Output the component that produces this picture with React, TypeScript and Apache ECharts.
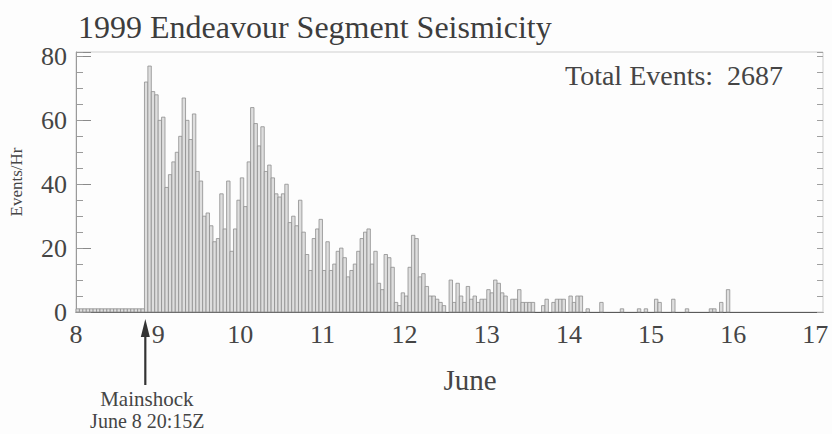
import React, { useEffect, useRef } from "react";
import * as echarts from "echarts";

// Hourly event counts, one array per day of June 1999 (hour 0..23)
const june8 = [1, 1, 1, 1, 1, 1, 1, 1, 1, 1, 1, 1, 1, 1, 1, 1, 1, 1, 1, 1, 72, 77, 69, 68];
const june9 = [60, 61, 39, 43, 47, 50, 55, 67, 60, 54, 62, 44, 41, 30, 31, 27, 22, 23, 37, 26, 41, 19, 26, 35];
const june10 = [42, 33, 47, 64, 59, 52, 58, 44, 46, 42, 37, 36, 37, 40, 28, 30, 27, 35, 25, 18, 13, 23, 26, 29];
const june11 = [13, 22, 13, 15, 19, 20, 17, 11, 13, 15, 19, 23, 25, 26, 15, 19, 9, 7, 18, 17, 14, 3, 2, 6];
const june12 = [5, 14, 24, 23, 11, 12, 8, 5, 5, 4, 3, 2, 0, 10, 3, 9, 5, 3, 8, 4, 5, 3, 4, 4];
const june13 = [7, 6, 10, 9, 6, 5, 0, 4, 4, 7, 3, 3, 3, 3, 0, 0, 2, 4, 0, 3, 4, 4, 4, 0];
const june14 = [5, 3, 5, 5, 0, 1, 0, 0, 0, 3, 0, 0, 0, 0, 0, 1, 0, 0, 0, 0, 1, 0, 1, 0];
const june15 = [0, 4, 3, 0, 0, 0, 4, 0, 0, 0, 1, 0, 0, 0, 0, 0, 0, 1, 1, 0, 3, 0, 7, 0];
const dayStarts = [8, 9, 10, 11, 12, 13, 14, 15];
const hourlyByDay = [june8, june9, june10, june11, june12, june13, june14, june15];

const xTickDays = [8, 9, 10, 11, 12, 13, 14, 15, 16, 17];
const yTickValues = [0, 20, 40, 60, 80];
const mainshockDay = 8 + (20 + 15 / 60) / 24;
const totalEvents = 2687;

const titleText = "1999 Endeavour Segment Seismicity";
const xAxisTitle = "June";
const yAxisTitle = "Events/Hr";
const mainshockLabel = "Mainshock";
const mainshockTime = "June 8 20:15Z";

const SERIF = "'Liberation Serif', 'Times New Roman', 'DejaVu Serif', serif";
const TEXT = "#454545";

export default function App() {
  const ref = useRef<HTMLDivElement>(null);

  useEffect(() => {
    if (!ref.current) return;
    const chart = echarts.init(ref.current, undefined, { renderer: "svg" });

    const points: number[][] = [];
    hourlyByDay.forEach((arr, d) => {
      arr.forEach((v, h) => {
        if (v > 0) points.push([dayStarts[d] + h / 24, v]);
      });
    });

    const yMax = 81.4;
    const xMin = xTickDays[0];
    const xMax = 17.093;

    const option: any = {
      animation: false,
      backgroundColor: "#fdfdfd",
      title: {
        text: titleText,
        left: 73,
        top: 6,
        textStyle: { fontFamily: SERIF, fontSize: 32, fontWeight: "normal", color: "#3d3d3d" },
      },
      grid: {
        left: 71,
        right: 9,
        top: 52,
        bottom: 122,
        show: true,
        borderColor: "#cfcfcf",
        borderWidth: 1,
        backgroundColor: "transparent",
      },
      xAxis: {
        type: "value",
        min: xMin,
        max: xMax,
        interval: 1,
        axisLine: { show: true, onZero: false, lineStyle: { color: "#5a5a5a", width: 1.2 } },
        axisTick: { show: false },
        splitLine: { show: false },
        axisLabel: {
          formatter: (v: number) => (xTickDays.includes(v) ? String(v) : ""),
          fontFamily: SERIF,
          fontSize: 26,
          color: TEXT,
          margin: 9,
          showMaxLabel: true,
        },
      },
      yAxis: [
        {
          type: "value",
          position: "left",
          min: 0,
          max: yMax,
          interval: 20,
          axisLine: { show: true, lineStyle: { color: "#9a9a9a" } },
          axisTick: { show: true, inside: true, length: 15, lineStyle: { color: "#8a8a8a" } },
          splitLine: { show: false },
          axisLabel: {
            formatter: (v: number) => (yTickValues.includes(v) ? String(v) : ""),
            fontFamily: SERIF,
            fontSize: 26,
            color: TEXT,
            margin: 9,
          },
          name: yAxisTitle,
          nameLocation: "middle",
          nameGap: 51,
          nameRotate: 90,
          nameTextStyle: { fontFamily: SERIF, fontSize: 17, color: TEXT },
        },
        {
          type: "value",
          position: "left",
          min: 0,
          max: yMax,
          interval: 5,
          axisLine: { show: false },
          axisTick: { show: true, inside: true, length: 7, lineStyle: { color: "#9a9a9a" } },
          axisLabel: { show: false },
          splitLine: { show: false },
        },
        {
          type: "value",
          position: "right",
          min: 0,
          max: yMax,
          interval: 5,
          axisLine: { show: false },
          axisTick: { show: true, inside: true, length: 6, lineStyle: { color: "#a0a0a0" } },
          axisLabel: { show: false },
          splitLine: { show: false },
        },
      ],
      series: [
        {
          type: "custom",
          xAxisIndex: 0,
          yAxisIndex: 0,
          encode: { x: 0, y: 1 },
          data: points,
          renderItem: (params: any, api: any) => {
            const x0 = api.value(0);
            const v = api.value(1);
            const a = api.coord([x0, v]);
            const b = api.coord([x0 + 1 / 24, 0]);
            return {
              type: "rect",
              shape: { x: a[0], y: a[1], width: b[0] - a[0], height: b[1] - a[1] },
              style: { fill: "#dedede", stroke: "#8e8e8e", lineWidth: 0.8 },
            };
          },
        },
      ],
    };

    chart.setOption(option);

    const p = chart.convertToPixel({ gridIndex: 0 }, [mainshockDay, 0]) as number[];
    const ax = p[0];
    const baseY = p[1];

    chart.setOption({
      graphic: [
        {
          type: "text",
          left: 565,
          top: 61,
          style: {
            text: `Total Events:  ${totalEvents}`,
            fontFamily: SERIF,
            fontSize: 28,
            fill: TEXT,
          },
        },
        {
          type: "text",
          x: 470,
          y: 380,
          style: {
            text: xAxisTitle,
            fontFamily: SERIF,
            fontSize: 29,
            fill: TEXT,
            align: "center",
            verticalAlign: "middle",
          },
        },
        {
          type: "line",
          shape: { x1: ax, y1: baseY + 73, x2: ax, y2: baseY + 22 },
          style: { stroke: "#333", lineWidth: 2.2 },
        },
        {
          type: "polygon",
          shape: {
            points: [
              [ax, baseY + 7],
              [ax - 4.5, baseY + 25],
              [ax + 4.5, baseY + 25],
            ],
          },
          style: { fill: "#333" },
        },
        {
          type: "text",
          x: ax + 1.5,
          y: 399,
          style: {
            text: mainshockLabel,
            fontFamily: SERIF,
            fontSize: 21,
            fill: TEXT,
            align: "center",
            verticalAlign: "middle",
          },
        },
        {
          type: "text",
          x: ax + 2,
          y: 421,
          style: {
            text: mainshockTime,
            fontFamily: SERIF,
            fontSize: 20,
            fill: TEXT,
            align: "center",
            verticalAlign: "middle",
          },
        },
      ],
    });

    return () => chart.dispose();
  }, []);

  return (
    <div
      ref={ref}
      style={{ position: "fixed", left: 0, top: 0, width: 832, height: 434 }}
    />
  );
}
